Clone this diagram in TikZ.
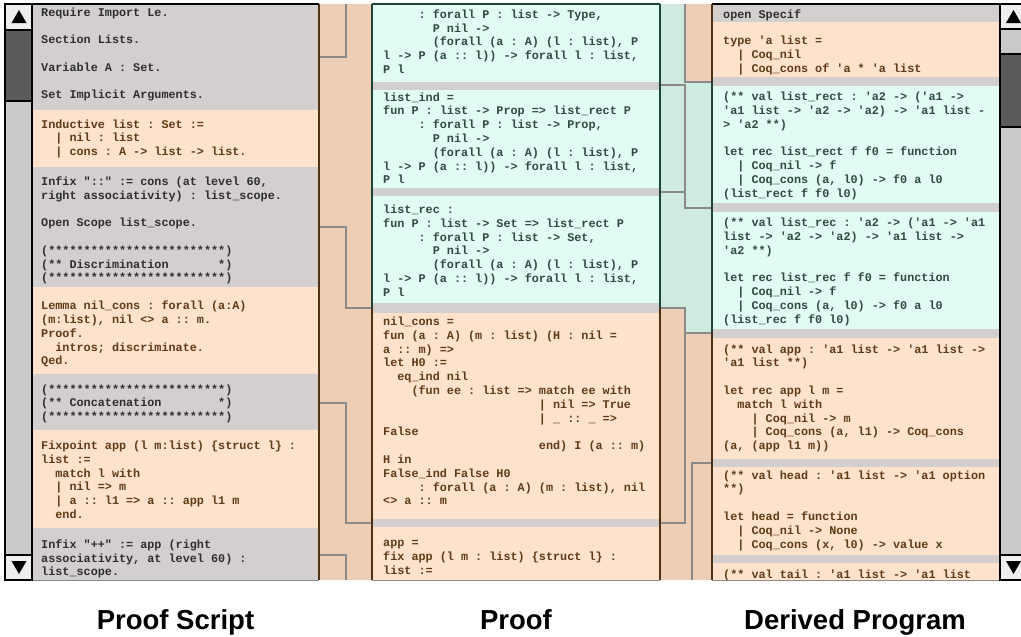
\documentclass[tikz,border=0pt]{standalone}
\usepackage{fontspec}
\setmainfont{Liberation Sans}
\setsansfont{Liberation Sans}
\setmonofont{Liberation Mono}
\definecolor{scriptgray}{HTML}{D3CFCE}
\definecolor{blockorange}{HTML}{FFE2CB}
\definecolor{blockmint}{HTML}{E0FDF1}
\definecolor{gaporange}{HTML}{EECFB5}
\definecolor{gapmint}{HTML}{CFEBDF}
\definecolor{txtgray}{HTML}{2E2E2E}
\definecolor{txtbrown}{HTML}{5E3B18}
\definecolor{txtgreen}{HTML}{2E4A42}
\definecolor{edgebrown}{HTML}{4E3113}
\definecolor{edgegreen}{HTML}{1E4538}
\definecolor{linkgray}{HTML}{8A8A8A}
\definecolor{trackgray}{HTML}{CACACA}
\definecolor{thumbgray}{HTML}{5A5A5A}
\definecolor{buttongray}{HTML}{EEEEEE}
\newcommand\pad[1]{\hspace*{\dimexpr0.6em*#1\relax}}
\tikzset{
  code/.style={anchor=north west, yshift=9.66pt, inner sep=0pt, align=left,
    font=\ttfamily\bfseries\fontsize{11.8}{13.8}\selectfont\frenchspacing,
    execute at begin node=\strut},
  graytext/.style={code, text=txtgray},
  browntext/.style={code, text=txtbrown},
  greentext/.style={code, text=txtgreen},
  link/.style={draw=linkgray, line width=1.3pt},
  edge/.style={line width=1.4pt},
  title/.style={anchor=base, font=\sffamily\bfseries\fontsize{27.5}{30}\selectfont},
}
\begin{document}
\begin{tikzpicture}[x=1pt,y=-1pt]
\useasboundingbox (0,0) rectangle (1021,637);
\begin{scope}
\clip (0,4) rectangle (1021,580);
% proof script blocks
\fill[scriptgray] (32,4) rectangle (319,110);
\fill[blockorange] (32,110) rectangle (319,167);
\fill[scriptgray] (32,167) rectangle (319,287);
\fill[blockorange] (32,287) rectangle (319,374);
\fill[scriptgray] (32,374) rectangle (319,430);
\fill[blockorange] (32,430) rectangle (319,528);
\fill[scriptgray] (32,528) rectangle (319,580);
% proof blocks
\fill[scriptgray] (372,4) rectangle (660,580);
\fill[blockmint] (372,4) rectangle (660,82);
\fill[blockmint] (372,90) rectangle (660,188);
\fill[blockmint] (372,196) rectangle (660,303);
\fill[blockorange] (372,313) rectangle (660,519);
\fill[blockorange] (372,527) rectangle (660,580);
% derived program blocks
\fill[scriptgray] (712,4) rectangle (1000,580);
\fill[blockorange] (712,22) rectangle (1000,77);
\fill[blockmint] (712,86) rectangle (1000,203);
\fill[blockmint] (712,212) rectangle (1000,329);
\fill[blockorange] (712,338) rectangle (1000,459);
\fill[blockorange] (712,467) rectangle (1000,555);
\fill[blockorange] (712,563) rectangle (1000,580);
% gaps
\fill[gaporange] (319,4) rectangle (372,580);
\fill[gapmint] (660,4) rectangle (712,580);
\fill[gaporange] (685,4) rectangle (712,82);
\fill[gaporange] (660,308) -- (685,308) -- (685,333) -- (712,333) -- (712,580) -- (660,580) -- cycle;
% links
\draw[link] (319,57) -| (346,4);
\draw[link] (319,227) -| (346,308) -- (372,308);
\draw[link] (319,403) -| (346,523) -- (372,523);
\draw[link] (319,555) -| (346,580);
\draw[link] (685,4) |- (712,82);
\draw[link] (660,85) -| (685,208) -- (712,208);
\draw[link] (660,192) -- (685,192);
\draw[link] (660,308) -| (685,523) -- (660,523);
\draw[link] (685,333) -- (712,333);
\draw[link] (692,580) |- (712,463);
% text
\node[graytext] (ps1) at (41,17) {Require Import Le.\\~\\Section Lists.\\~\\Variable A : Set.\\~\\Set Implicit Arguments.};
\node[browntext] (ps2) at (41,129) {Inductive list : Set :=\\\pad{2}| nil : list\\\pad{2}| cons : A -> list -> list.};
\node[graytext] (ps3) at (41,186) {Infix "::" := cons (at level 60,\\right associativity) : list\_scope.\\~\\Open Scope list\_scope.\\~\\(*************************)\\(** Discrimination\pad{7}*)\\(*************************)};
\node[browntext] (ps4) at (41,310.5) {Lemma nil\_cons : forall (a:A)\\(m:list), nil <> a :: m.\\Proof.\\\pad{2}intros; discriminate.\\Qed.};
\node[graytext] (ps5) at (41,394) {(*************************)\\(** Concatenation\pad{8}*)\\(*************************)};
\node[browntext] (ps6) at (41,450.5) {Fixpoint app (l m:list) \{struct l\} :\\list :=\\\pad{2}match l with\\\pad{2}| nil => m\\\pad{2}| a :: l1 => a :: app l1 m\\\pad{2}end.};
\node[graytext] (ps7) at (41,549) {Infix "++" := app (right\\associativity, at level 60) :\\list\_scope.};
\node[greentext] (pf1) at (383,19) {\pad{5}: forall P : list -> Type,\\\pad{7}P nil ->\\\pad{7}(forall (a : A) (l : list), P\\l -> P (a :: l)) -> forall l : list,\\P l};
\node[greentext] (pf2) at (383,102) {list\_ind =\\fun P : list -> Prop => list\_rect P\\\pad{5}: forall P : list -> Prop,\\\pad{7}P nil ->\\\pad{7}(forall (a : A) (l : list), P\\l -> P (a :: l)) -> forall l : list,\\P l};
\node[greentext] (pf3) at (383,214.5) {list\_rec :\\fun P : list -> Set => list\_rect P\\\pad{5}: forall P : list -> Set,\\\pad{7}P nil ->\\\pad{7}(forall (a : A) (l : list), P\\l -> P (a :: l)) -> forall l : list,\\P l};
\node[browntext] (pf4) at (383,326.5) {nil\_cons =\\fun (a : A) (m : list) (H : nil =\\a :: m) =>\\let H0 :=\\\pad{2}eq\_ind nil\\\pad{4}(fun ee : list => match ee with\\\pad{22}| nil => True\\\pad{22}| \_ :: \_ =>\\False\\\pad{22}end) I (a :: m)\\H in\\False\_ind False H0\\\pad{5}: forall (a : A) (m : list), nil\\<> a :: m};
\node[browntext] (pf5) at (383,550) {app =\\fix app (l m : list) \{struct l\} :\\list :=};
\node[graytext] (dp0) at (723,18) {open Specif};
\node[browntext] (dp1) at (723,45.5) {type 'a list =\\\pad{2}| Coq\_nil\\\pad{2}| Coq\_cons of 'a * 'a list};
\node[greentext] (dp2) at (723,101.5) {(** val list\_rect : 'a2 -> ('a1 ->\\'a1 list -> 'a2 -> 'a2) -> 'a1 list -\\> 'a2 **)\\~\\let rec list\_rect f f0 = function\\\pad{2}| Coq\_nil -> f\\\pad{2}| Coq\_cons (a, l0) -> f0 a l0\\(list\_rect f f0 l0)};
\node[greentext] (dp3) at (723,227.5) {(** val list\_rec : 'a2 -> ('a1 -> 'a1\\list -> 'a2 -> 'a2) -> 'a1 list ->\\'a2 **)\\~\\let rec list\_rec f f0 = function\\\pad{2}| Coq\_nil -> f\\\pad{2}| Coq\_cons (a, l0) -> f0 a l0\\(list\_rec f f0 l0)};
\node[browntext] (dp4) at (723,354) {(** val app : 'a1 list -> 'a1 list ->\\'a1 list **)\\~\\let rec app l m =\\\pad{2}match l with\\\pad{4}| Coq\_nil -> m\\\pad{4}| Coq\_cons (a, l1) -> Coq\_cons\\(a, (app l1 m))};
\node[browntext] (dp5) at (723,480) {(** val head : 'a1 list -> 'a1 option\\{}**)\\~\\let head = function\\\pad{2}| Coq\_nil -> None\\\pad{2}| Coq\_cons (x, l0) -> value x};
\node[browntext] (dp6) at (723,578) {(** val tail : 'a1 list -> 'a1 list};
\end{scope}
% panel edges
\draw[edge,black] (5,4) -- (319,4);
\draw[edge,edgebrown] (319,4) -- (319,580);
\draw[edge,edgegreen] (372,4) -- (660,4);
\draw[edge,edgegreen] (372,4) -- (372,308) (660,4) -- (660,308);
\draw[edge,edgebrown] (372,308) -- (372,580) (660,308) -- (660,580);
\draw[edge,black] (712,4) -- (1021,4);
\draw[edge,edgebrown] (712,4) -- (712,82) (712,333) -- (712,580);
\draw[edge,edgegreen] (712,82) -- (712,333);
\draw[linkgray,line width=1pt] (32,580) -- (319,580) (372,580) -- (660,580) (712,580) -- (1000,580);
% scroll bars
\fill[trackgray] (5,4) rectangle (32,580);
\filldraw[fill=thumbgray,draw=black,edge] (5,30) rectangle (32,101);
\filldraw[fill=buttongray,draw=black,edge] (5,4) rectangle (32,30);
\fill[black] (11.5,23) -- (26.5,23) -- (19,10) -- cycle;
\filldraw[fill=buttongray,draw=black,edge] (5,555) rectangle (32,580);
\fill[black] (11.5,561) -- (26.5,561) -- (19,574) -- cycle;
\draw[edge,black] (5,4) rectangle (32,580);
\fill[trackgray] (1000,4) rectangle (1027,580);
\filldraw[fill=thumbgray,draw=black,edge] (1000,54) rectangle (1027,127);
\filldraw[fill=buttongray,draw=black,edge] (1000,4) rectangle (1027,29);
\fill[black] (1006,23) -- (1021,23) -- (1013.5,10) -- cycle;
\filldraw[fill=buttongray,draw=black,edge] (1000,555) rectangle (1027,580);
\fill[black] (1006,561) -- (1021,561) -- (1013.5,574) -- cycle;
\draw[edge,black] (1000,4) -- (1000,580);
% titles
\node[title] (tScript) at (175.5,629) {Proof Script};
\node[title] (tProof) at (516,629) {Proof};
\node[title] (tProgram) at (855,629) {Derived Program};
\end{tikzpicture}
\end{document}
